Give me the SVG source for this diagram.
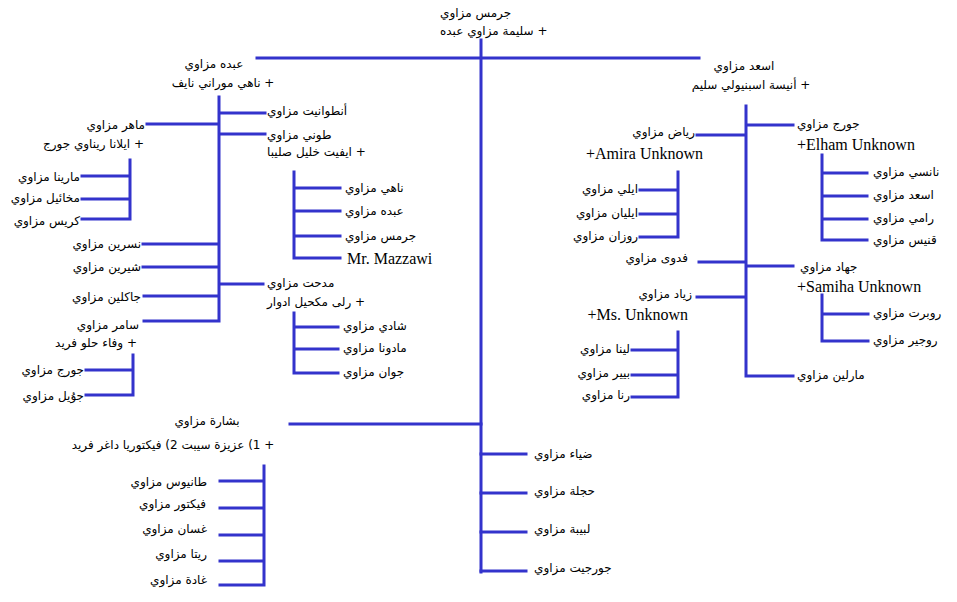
<svg xmlns="http://www.w3.org/2000/svg" width="957" height="602" viewBox="0 0 957 602">
<style>
.bg{fill:#fff}
.c path{stroke:#3333cc;stroke-width:3;fill:none;stroke-linecap:square}
.ar{font-family:"DejaVu Sans",sans-serif;font-size:12px;direction:rtl;fill:#000}
.re{text-anchor:start}
.le{text-anchor:end}
.mid{text-anchor:middle}
.la{font-family:"Liberation Serif",serif;font-size:16px;fill:#000}
.lre{text-anchor:end}
</style>
<rect class="bg" x="0" y="0" width="957" height="602"/>
<g id="connectors" class="c">
<path d="M481 40V572M257 58H699"/>
<path d="M219 97V321M219 113H265M219 134H265M147 124H219M143 244H219M143 267H219M144 296H219M144 321H219M219 284H263"/>
<path d="M130 160V219M82 176H130M82 199H130M82 219H130"/>
<path d="M294 172V258M294 188H340M294 211H340M294 236H340M294 258H340"/>
<path d="M294 313V373M294 327H338M294 349H338M294 373H338"/>
<path d="M133 355V395M86 370H133M86 395H133"/>
<path d="M290 424H481M264 466V585M220 481H264M220 508H264M220 535H264M220 561H264M220 585H264"/>
<path d="M481 454H526M481 493H526M481 532H526M481 571H526"/>
<path d="M746 106V376M746 125H793M697 135H746M699 262H746M746 266H793M697 297H746M746 376H793"/>
<path d="M822 155V240M822 173H867M822 196H867M822 219H867M822 240H867"/>
<path d="M678 172V237M640 190H678M640 214H678M640 237H678"/>
<path d="M822 295V341M822 314H868M822 341H868"/>
<path d="M678 332V397M632 350H678M632 375H678M632 397H678"/>
</g>
<g id="n-jirmis"><text class="ar le" x="440" y="17">جرمس مزاوي</text><text class="ar le" x="440" y="35">+ سليمة مزاوي عبده</text></g>
<g id="n-abdo"><text class="ar mid" x="214" y="68">عبده مزاوي</text><text class="ar mid" x="223" y="87">+ ناهي موراني نايف</text></g>
<g id="n-antoinette"><text class="ar le" x="267" y="115">أنطوانيت مزاوي</text></g>
<g id="n-toni"><text class="ar le" x="267" y="139">طوني مزاوي</text><text class="ar le" x="267" y="156">+ ايفيت خليل صليبا</text></g>
<g id="n-maher"><text class="ar re" x="145" y="129">ماهر مزاوي</text><text class="ar re" x="144" y="148">+ ايلانا ريناوي جورج</text></g>
<g id="n-marina"><text class="ar re" x="80" y="181">مارينا مزاوي</text></g>
<g id="n-mikhail"><text class="ar re" x="80" y="202">مخائيل مزاوي</text></g>
<g id="n-chris"><text class="ar re" x="80" y="225">كريس مزاوي</text></g>
<g id="n-nisrin"><text class="ar re" x="141" y="248">نسرين مزاوي</text></g>
<g id="n-shirin"><text class="ar re" x="141" y="271">شيرين مزاوي</text></g>
<g id="n-jacqueline"><text class="ar re" x="141" y="301">جاكلين مزاوي</text></g>
<g id="n-samer"><text class="ar re" x="139" y="329">سامر مزاوي</text><text class="ar re" x="137" y="347">+ وفاء حلو فريد</text></g>
<g id="n-george-l"><text class="ar re" x="84" y="374">جورج مزاوي</text></g>
<g id="n-joel"><text class="ar re" x="84" y="400">جوُيل مزاوي</text></g>
<g id="n-medhat"><text class="ar le" x="267" y="287">مدحت مزاوي</text><text class="ar le" x="267" y="306">+ رلى مكحيل ادوار</text></g>
<g id="n-shadi"><text class="ar le" x="343" y="330">شادي مزاوي</text></g>
<g id="n-madona"><text class="ar le" x="343" y="352">مادونا مزاوي</text></g>
<g id="n-jwan"><text class="ar le" x="343" y="376">جوان مزاوي</text></g>
<g id="n-nahi"><text class="ar le" x="345" y="192">ناهي مزاوي</text></g>
<g id="n-abdo2"><text class="ar le" x="345" y="215">عبده مزاوي</text></g>
<g id="n-jirmis2"><text class="ar le" x="345" y="240">جرمس مزاوي</text></g>
<g id="n-mr"><text class="la" x="347" y="264">Mr. Mazzawi</text></g>
<g id="n-bishara"><text class="ar mid" x="207" y="425">بشارة مزاوي</text><text class="ar mid" x="173" y="449">+ 1) عزيزة سيبت  2) فيكتوريا داغر فريد</text></g>
<g id="n-tanios"><text class="ar re" x="207" y="486">طانيوس مزاوي</text></g>
<g id="n-victor"><text class="ar re" x="206" y="508">فيكتور مزاوي</text></g>
<g id="n-ghassan"><text class="ar re" x="207" y="533">غسان مزاوي</text></g>
<g id="n-rita"><text class="ar re" x="207" y="558">ريتا مزاوي</text></g>
<g id="n-ghada"><text class="ar re" x="207" y="584">غادة مزاوي</text></g>
<g id="n-diaa"><text class="ar le" x="534" y="458">ضياء مزاوي</text></g>
<g id="n-hajla"><text class="ar le" x="534" y="495">حجلة مزاوي</text></g>
<g id="n-labiba"><text class="ar le" x="534" y="533">لبيبة مزاوي</text></g>
<g id="n-georgette"><text class="ar le" x="534" y="572">جورجيت مزاوي</text></g>
<g id="n-asaad"><text class="ar mid" x="744" y="70">اسعد مزاوي</text><text class="ar mid" x="751" y="89">+ أنيسة اسبنيولي سليم</text></g>
<g id="n-george-r"><text class="ar le" x="797" y="128">جورج مزاوي</text><text class="la" x="797" y="150">+Elham Unknown</text></g>
<g id="n-riad"><text class="ar re" x="695" y="136">رياض مزاوي</text><text class="la lre" x="703" y="159">+Amira Unknown</text></g>
<g id="n-nancy"><text class="ar le" x="873" y="176">نانسي مزاوي</text></g>
<g id="n-asaad2"><text class="ar le" x="873" y="199">اسعد مزاوي</text></g>
<g id="n-rami"><text class="ar le" x="873" y="222">رامي مزاوي</text></g>
<g id="n-venice"><text class="ar le" x="873" y="244">قنيس مزاوي</text></g>
<g id="n-elie"><text class="ar re" x="638" y="193">ايلي مزاوي</text></g>
<g id="n-elian"><text class="ar re" x="638" y="217">ايليان مزاوي</text></g>
<g id="n-rozan"><text class="ar re" x="638" y="240">روزان مزاوي</text></g>
<g id="n-fadwa"><text class="ar re" x="688" y="262">فدوى مزاوي</text></g>
<g id="n-jihad"><text class="ar le" x="800" y="271">جهاد مزاوي</text><text class="la" x="797" y="292">+Samiha Unknown</text></g>
<g id="n-ziad"><text class="ar re" x="692" y="298">زياد مزاوي</text><text class="la lre" x="688" y="320">+Ms. Unknown</text></g>
<g id="n-robert"><text class="ar le" x="873" y="317">روبرت مزاوي</text></g>
<g id="n-roger"><text class="ar le" x="873" y="344">روجير مزاوي</text></g>
<g id="n-lina"><text class="ar re" x="630" y="353">لينا مزاوي</text></g>
<g id="n-pierre"><text class="ar re" x="630" y="377">بيير مزاوي</text></g>
<g id="n-rana"><text class="ar re" x="630" y="399">رنا مزاوي</text></g>
<g id="n-marleen"><text class="ar le" x="797" y="379">مارلين مزاوي</text></g>
</svg>
